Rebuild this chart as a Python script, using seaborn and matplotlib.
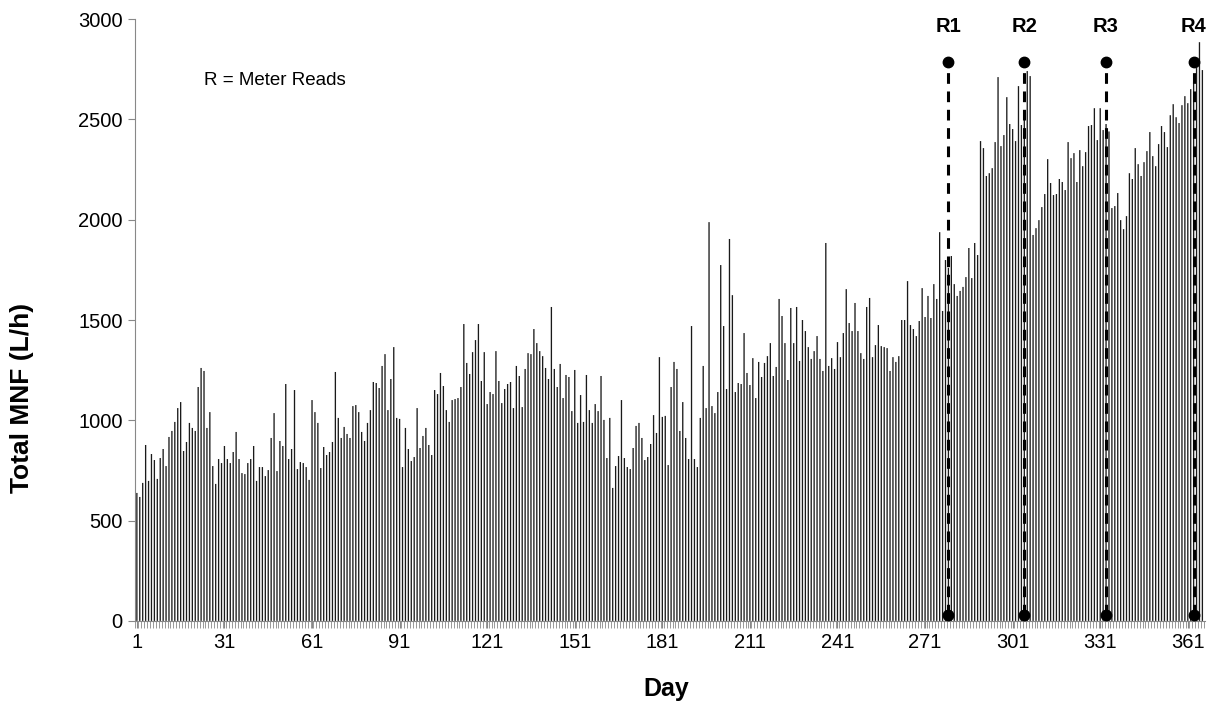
import matplotlib
matplotlib.use('Agg')
import matplotlib.pyplot as plt
import numpy as np
import pandas as pd
import seaborn as sns

# daily total minimum night flow (L/h)
mnf_jan = [638, 618, 688, 877, 698, 832, 802, 708, 812, 857, 772, 917, 947, 992, 1061, 1091,
           847, 892, 987, 962, 947, 1166, 1261, 1246, 962, 1041, 772, 683, 807, 787, 872]
mnf_feb = [807, 787, 842, 942, 807, 737, 732, 787, 807, 872, 698, 767, 767, 722, 752, 912,
           1036, 747, 897, 872, 1181, 807, 857, 1151, 757, 792, 787, 767, 703, 1101, 1041]
mnf_mar = [987, 762, 867, 827, 842, 892, 1241, 1012, 912, 967, 932, 912, 1071, 1076, 1041, 942,
           897, 987, 1051, 1191, 1186, 1161, 1271, 1330, 1051, 1206, 1365, 1012, 1007, 767, 962]
mnf_apr = [857, 797, 817, 1061, 862, 922, 962, 877, 827, 1151, 1131, 1236, 1171, 1051, 992,
           1101, 1106, 1111, 1166, 1480, 1286, 1231, 1340, 1400, 1480, 1196, 1340, 1081, 1141, 1131]
mnf_may = [1345, 1196, 1086, 1156, 1181, 1191, 1061, 1271, 1221, 1066, 1256, 1335, 1330, 1455,
           1385, 1345, 1320, 1261, 1206, 1565, 1256, 1166, 1281, 1111, 1226, 1216, 1046, 1251,
           987, 1126, 992]
mnf_jun = [1226, 1051, 987, 1081, 1046, 1221, 1002, 812, 1012, 663, 772, 822, 1101, 812, 767,
           757, 862, 972, 987, 912, 802, 817, 882, 1026, 937, 1315, 1017, 1022, 777, 1166, 1291]
mnf_jul = [1256, 947, 1091, 912, 807, 1470, 807, 767, 1012, 1271, 1061, 1988, 1071, 1036, 1141,
           1774, 1470, 1156, 1904, 1624, 1141, 1186, 1181, 1435, 1236, 1176, 1310, 1111, 1291,
           1216, 1286]
mnf_aug = [1320, 1385, 1221, 1266, 1605, 1520, 1385, 1201, 1560, 1385, 1565, 1296, 1500, 1445,
           1365, 1306, 1345, 1420, 1306, 1246, 1884, 1271, 1310, 1256, 1390, 1315, 1435, 1654,
           1485, 1445, 1585]
mnf_sep = [1445, 1335, 1306, 1565, 1610, 1315, 1375, 1475, 1370, 1365, 1360, 1246, 1315, 1291,
           1320, 1500, 1500, 1694, 1475, 1455, 1420, 1495, 1659, 1515, 1620, 1510, 1679, 1605,
           1938, 1545, 1799, 1760]
mnf_oct = [1819, 1679, 1620, 1645, 1665, 1714, 1859, 1709, 1884, 1824, 2392, 2357, 2218, 2232,
           2257, 2387, 2711, 2367, 2422, 2611, 2477, 2452, 2392, 2666, 2472, 2507, 2741, 2716,
           1924, 1958]
mnf_nov = [1998, 2063, 2128, 2302, 2183, 2123, 2128, 2203, 2188, 2148, 2387, 2307, 2332, 2188,
           2347, 2267, 2337, 2467, 2472, 2556, 2397, 2556, 2447, 2477, 2440, 2058, 2068, 2133,
           1998, 1953, 2018]
mnf_dec = [2232, 2203, 2357, 2277, 2218, 2287, 2342, 2437, 2317, 2267, 2377, 2467, 2437, 2362,
           2521, 2576, 2511, 2482, 2571, 2616, 2581, 2651, 2686, 2756, 2885, 2746]

mnf = (mnf_jan + mnf_feb + mnf_mar + mnf_apr + mnf_may + mnf_jun + mnf_jul + mnf_aug
       + mnf_sep + mnf_oct + mnf_nov + mnf_dec)
days = list(range(1, len(mnf) + 1))

# meter read days
read_labels = ['R1', 'R2', 'R3', 'R4']
read_days = [279, 305, 333, 363]
read_low = 30
read_high = 2785

df = pd.DataFrame({'day': days, 'mnf': mnf})

sns.set_style("ticks")
plt.rcParams['font.family'] = ['Liberation Sans', 'DejaVu Sans']
plt.rcParams['text.color'] = 'black'
plt.rcParams['axes.labelcolor'] = 'black'

fig = plt.figure(figsize=(12.12, 7.08), dpi=100)
ax = fig.add_axes([0.111, 0.123, 0.883, 0.850])

sns.barplot(data=df, x='day', y='mnf', color='#1a1a1a', width=0.45,
            saturation=1, linewidth=0, ax=ax)
# thin bars: turn off pixel snapping so none vanish
for p in ax.patches:
    p.set_snap(False)
    p.set_antialiased(True)

# dashed meter read lines (categorical positions are day - 1)
for lab, d in zip(read_labels, read_days):
    ax.plot([d - 1, d - 1], [read_low, read_high], color='black', lw=2.2,
            ls=(0, (3.5, 2.5)), marker='o', markersize=7.5, zorder=5,
            clip_on=False)
    ax.text(d - 1, 2915, lab, ha='center', va='bottom', fontsize=14.5,
            fontweight='bold')

ax.text(23, 2695, 'R = Meter Reads', fontsize=13.5, va='center')

ax.set_ylim(0, 3000)
ax.set_xlim(-0.8, len(mnf) - 0.2)
ax.set_yticks(range(0, 3001, 500))
ax.set_xticks(range(0, len(mnf), 30))
ax.set_xticklabels([str(i + 1) for i in range(0, len(mnf), 30)])
ax.set_xticks(np.arange(-0.5, len(mnf), 1), minor=True)
ax.tick_params(axis='both', labelsize=14.5, labelcolor='black')
ax.tick_params(axis='x', which='major', length=5, color='#888888')
ax.tick_params(axis='x', which='minor', length=5, color='#888888', width=0.6)
ax.tick_params(axis='y', length=5, color='#888888')
for s in ['left', 'bottom']:
    ax.spines[s].set_color('#888888')
sns.despine()

ax.set_xlabel('Day', fontsize=18, fontweight='bold')
ax.set_ylabel('Total MNF (L/h)', fontsize=19, fontweight='bold')
ax.xaxis.set_label_coords(0.497, -0.094)
ax.yaxis.set_label_coords(-0.094, 0.37)

plt.savefig('out.png', dpi=100)
